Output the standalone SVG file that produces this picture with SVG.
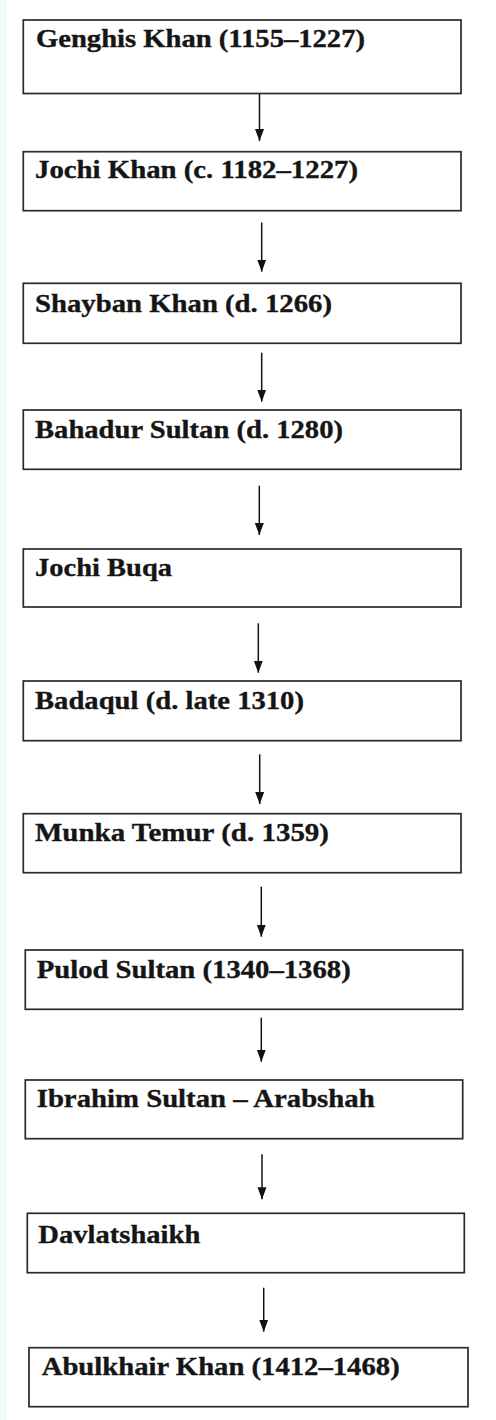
<svg xmlns="http://www.w3.org/2000/svg" width="496" height="1420" viewBox="0 0 496 1420">
<defs>
<style>
.box{fill:#ffffff;stroke:#2a2a2a;stroke-width:1.7}
.lbl{font-family:"Liberation Serif","Times New Roman",serif;font-weight:bold;font-size:26px;fill:#151515;stroke:#151515;stroke-width:0.35}
.arr{stroke:#111;stroke-width:1.5;fill:none}
</style>
<marker id="ah" markerUnits="userSpaceOnUse" markerWidth="12" markerHeight="10" viewBox="0 -5 12 10" refX="12" refY="0" orient="auto">
<path d="M0,-4.5 L12,0 L0,4.5 z" fill="#111"/>
</marker>
</defs>
<rect x="0" y="0" width="496" height="1420" fill="#ffffff"/>
<rect x="0" y="0" width="7" height="1420" fill="#effcf1"/>
<g id="connectors">
<line class="arr" x1="259.5" y1="94" x2="259.5" y2="141" stroke="#555" stroke-width="2" marker-end="url(#ah)"/>
<line class="arr" x1="261.7" y1="222.5" x2="261.7" y2="271.7" marker-end="url(#ah)"/>
<line class="arr" x1="261.7" y1="352.7" x2="261.7" y2="401.7" marker-end="url(#ah)"/>
<line class="arr" x1="259.3" y1="485.7" x2="259.3" y2="535" marker-end="url(#ah)"/>
<line class="arr" x1="258.3" y1="623.3" x2="258.3" y2="672.7" marker-end="url(#ah)"/>
<line class="arr" x1="259.7" y1="754.3" x2="259.7" y2="804" marker-end="url(#ah)"/>
<line class="arr" x1="261.3" y1="886.7" x2="261.3" y2="936.7" marker-end="url(#ah)"/>
<line class="arr" x1="261.3" y1="1017.7" x2="261.3" y2="1061.7" marker-end="url(#ah)"/>
<line class="arr" x1="262" y1="1154.3" x2="262" y2="1199.3" marker-end="url(#ah)"/>
<line class="arr" x1="263.7" y1="1287.7" x2="263.7" y2="1331.7" marker-end="url(#ah)"/>
</g>
<g id="n1"><rect class="box" x="23.3" y="20" width="437.7" height="73.5"/><text class="lbl" x="36" y="47.3" textLength="329" lengthAdjust="spacingAndGlyphs">Genghis Khan (1155–1227)</text></g>
<g id="n2"><rect class="box" x="23.3" y="151.7" width="437.7" height="59"/><text class="lbl" x="35" y="178.3" textLength="323" lengthAdjust="spacingAndGlyphs">Jochi Khan (c. 1182–1227)</text></g>
<g id="n3"><rect class="box" x="23.3" y="283.3" width="437.7" height="60"/><text class="lbl" x="35" y="311.5" textLength="297" lengthAdjust="spacingAndGlyphs">Shayban Khan (d. 1266)</text></g>
<g id="n4"><rect class="box" x="23.3" y="410" width="437.7" height="59.3"/><text class="lbl" x="35" y="438.3" textLength="308" lengthAdjust="spacingAndGlyphs">Bahadur Sultan (d. 1280)</text></g>
<g id="n5"><rect class="box" x="23.3" y="549" width="437.7" height="58"/><text class="lbl" x="35" y="576" textLength="137" lengthAdjust="spacingAndGlyphs">Jochi Buqa</text></g>
<g id="n6"><rect class="box" x="23.3" y="681" width="437.7" height="59.7"/><text class="lbl" x="35" y="709.3" textLength="269" lengthAdjust="spacingAndGlyphs">Badaqul (d. late 1310)</text></g>
<g id="n7"><rect class="box" x="23.3" y="813.7" width="437.7" height="59"/><text class="lbl" x="35" y="840.7" textLength="294" lengthAdjust="spacingAndGlyphs">Munka Temur (d. 1359)</text></g>
<g id="n8"><rect class="box" x="25.3" y="950" width="437.4" height="59.3"/><text class="lbl" x="36.7" y="978.3" textLength="314" lengthAdjust="spacingAndGlyphs">Pulod Sultan (1340–1368)</text></g>
<g id="n9"><rect class="box" x="25.3" y="1080" width="437.4" height="58.7"/><text class="lbl" x="36.7" y="1107.3" textLength="338" lengthAdjust="spacingAndGlyphs">Ibrahim Sultan – Arabshah</text></g>
<g id="n10"><rect class="box" x="27.3" y="1213.3" width="437" height="59.4"/><text class="lbl" x="38.3" y="1242.7" textLength="162" lengthAdjust="spacingAndGlyphs">Davlatshaikh</text></g>
<g id="n11"><rect class="box" x="29" y="1347.7" width="439" height="59"/><text class="lbl" x="41.7" y="1375" textLength="358" lengthAdjust="spacingAndGlyphs">Abulkhair Khan (1412–1468)</text></g>
</svg>
